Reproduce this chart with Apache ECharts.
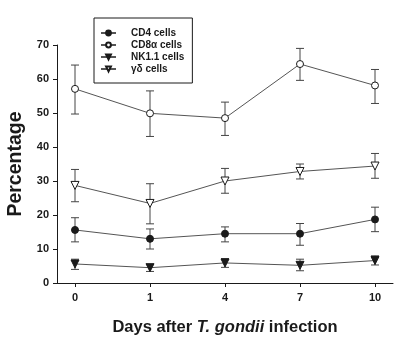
<!DOCTYPE html>
<html><head><meta charset="utf-8">
<script src="https://cdn.jsdelivr.net/npm/echarts@6/dist/echarts.min.js"></script>
<style>html,body{margin:0;padding:0;background:#fff}#c{width:406px;height:343px}</style>
</head><body><div id="c"></div>
<script>
const days = ['0','1','4','7','10'];
const seriesNames = ['CD4 cells','CD8\u03b1 cells','NK1.1 cells','\u03b3\u03b4 cells'];
const cd4 = [15.6, 13.0, 14.5, 14.5, 18.7];
const cd4Lo = [12.1, 10.0, 12.1, 11.1, 15.1];
const cd4Hi = [19.2, 15.9, 16.5, 17.5, 22.3];
const cd8 = [57.1, 49.9, 48.5, 64.4, 58.1];
const cd8Lo = [49.7, 43.1, 43.4, 59.6, 52.8];
const cd8Hi = [64.1, 56.5, 53.2, 69.0, 62.8];
const nk = [5.6, 4.5, 5.9, 5.2, 6.6];
const nkLo = [4.0, 3.4, 4.6, 3.6, 5.3];
const nkHi = [7.0, 5.5, 7.2, 7.0, 8.0];
const gd = [28.7, 23.4, 30.0, 32.8, 34.4];
const gdLo = [23.9, 17.4, 26.4, 30.6, 30.8];
const gdHi = [33.4, 29.2, 33.7, 35.0, 38.1];
const yTicks = [0,10,20,30,40,50,60,70];

const FONT = '"Liberation Sans", Arial, sans-serif';
const INK = '#1a1a1a';
const LINE = '#555';

function pts(v){ return v.map((y,i)=>[i,y]); }
function errData(lo,hi){ return lo.map((l,i)=>[i,l,hi[i]]); }
function errSeries(lo,hi){
  return {
    type:'custom', silent:true, z:1,
    data: errData(lo,hi),
    renderItem: function(params, api){
      const x = api.value(0);
      const p1 = api.coord([x, api.value(1)]);
      const p2 = api.coord([x, api.value(2)]);
      const w = 4;
      const st = {stroke:'#444', lineWidth:1};
      return {type:'group', children:[
        {type:'line', shape:{x1:p1[0],y1:p1[1],x2:p2[0],y2:p2[1]}, style:st},
        {type:'line', shape:{x1:p1[0]-w,y1:p1[1],x2:p1[0]+w,y2:p1[1]}, style:st},
        {type:'line', shape:{x1:p2[0]-w,y1:p2[1],x2:p2[0]+w,y2:p2[1]}, style:st}
      ]};
    }
  };
}
function lineSeries(name, vals, symbol, filled, rot){
  return {
    type:'line', name:name, data:pts(vals), z:3,
    symbol:symbol, symbolSize: symbol==='circle'?7:8, symbolRotate: rot||0,
    showAllSymbol:true,
    lineStyle:{color:LINE, width:1},
    itemStyle:{color: filled?INK:'#fff', borderColor:INK, borderWidth:1, opacity:1},
    emphasis:{disabled:true}
  };
}

const chart = echarts.init(document.getElementById('c'), null, {renderer:'canvas'});
chart.setOption({
  animation:false,
  backgroundColor:'#fff',
  grid:{left:57, right:13, top:45, bottom:60, containLabel:false, outerBoundsMode:'none'},
  xAxis:{
    type:'value', min:-0.24, max:4.24,
    name:'{b|Days after }{i|T. gondii}{b| infection}',
    nameLocation:'middle', nameGap:36,
    nameTextStyle:{rich:{
      b:{fontFamily:FONT, fontSize:16.5, fontWeight:'bold', color:INK},
      i:{fontFamily:FONT, fontSize:16.5, fontWeight:'bold', fontStyle:'italic', color:INK}
    }},
    splitLine:{show:false},
    axisLine:{show:true, onZero:false, lineStyle:{color:INK, width:1}},
    axisTick:{show:true, inside:false, length:4, customValues:[0,1,2,3,4], lineStyle:{color:INK}},
    axisLabel:{customValues:[0,1,2,3,4], formatter:(v)=>days[Math.round(v)], margin:9,
      fontFamily:FONT, fontSize:11, fontWeight:'bold', color:INK}
  },
  yAxis:{
    type:'value', min:0, max:70, interval:10,
    name:'Percentage', nameLocation:'middle', nameGap:26, nameRotate:90,
    nameTextStyle:{fontFamily:FONT, fontSize:19.5, fontWeight:'bold', color:INK},
    splitLine:{show:false},
    axisLine:{show:true, onZero:false, lineStyle:{color:INK, width:1}},
    axisTick:{show:true, inside:false, length:4, lineStyle:{color:INK}},
    axisLabel:{margin:8, fontFamily:FONT, fontSize:11, fontWeight:'bold', color:INK,
      formatter:(v)=>yTicks.indexOf(v)>=0?String(v):''}
  },
  legend:{
    show:true, orient:'vertical', left:94, top:18,
    data: seriesNames,
    padding:[10,8,9,6], itemGap:2, itemWidth:15, itemHeight:6,
    borderColor:INK, borderWidth:1,
    backgroundColor:'#fff',
    textStyle:{fontFamily:FONT, fontSize:10, fontWeight:'bold', color:INK, padding:[0,0,0,10]},
    selectedMode:false
  },
  series:[
    errSeries(cd8Lo,cd8Hi), errSeries(gdLo,gdHi), errSeries(cd4Lo,cd4Hi), errSeries(nkLo,nkHi),
    lineSeries(seriesNames[0], cd4, 'circle', true),
    lineSeries(seriesNames[1], cd8, 'circle', false),
    lineSeries(seriesNames[2], nk, 'triangle', true, 180),
    lineSeries(seriesNames[3], gd, 'triangle', false, 180)
  ]
});
</script></body></html>
